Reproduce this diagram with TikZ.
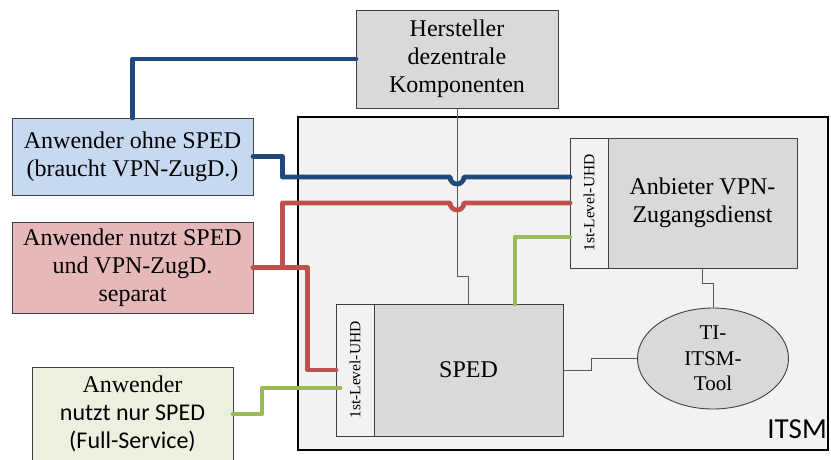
\documentclass[tikz,border=0pt]{standalone}
\usepackage{fontspec}
\setmainfont{Liberation Serif}
\newfontfamily\calibri{Carlito}
\usetikzlibrary{shapes.geometric,calc}

\definecolor{boxgray}{HTML}{D9D9D9}
\definecolor{itsmgray}{HTML}{F2F2F2}
\definecolor{userblue}{HTML}{C6D9F1}
\definecolor{userred}{HTML}{E6B9B8}
\definecolor{usergreen}{HTML}{EBF1DE}
\definecolor{lineblue}{HTML}{1F497D}
\definecolor{linered}{HTML}{C0504D}
\definecolor{linegreen}{HTML}{9BBB59}

\begin{document}
\begin{tikzpicture}[x=1pt, y=-1pt,
    box/.style={draw=black!75, line width=0.9pt, inner sep=0pt, outer sep=0pt, anchor=north west,
        align=center, font=\fontsize{24}{28}\selectfont},
    uhd/.style={box, fill=itsmgray, minimum width=38pt, font=\fontsize{15.5}{18}\selectfont},
    thin/.style={draw=black!65, line width=0.9pt},
    user/.style={line width=4.8pt, line cap=round, line join=round}]
    \useasboundingbox (0,0) rectangle (831,459);

    \node[box, draw=black, line width=1.8pt, fill=itsmgray, minimum width=530pt, minimum height=333pt] (itsm) at (298,117) {};
    \node[anchor=base east, inner sep=0pt, font=\calibri\fontsize{29}{32}\selectfont] (itsmlabel) at (827,438) {ITSM};

    \node[box, fill=boxgray, minimum width=202pt, minimum height=98pt] (herst) at (356,10) {Hersteller\\dezentrale\\Komponenten};
    \node[box, fill=userblue, minimum width=241pt, minimum height=77pt] (ohne) at (12,118) {Anwender ohne SPED\\(braucht VPN-ZugD.)};
    \node[box, fill=userred, minimum width=241pt, minimum height=91pt] (nutzt) at (12,222) {Anwender nutzt SPED\\und VPN-ZugD.\\separat};
    \node[box, fill=usergreen, minimum width=201pt, minimum height=94pt] (nursped) at (32,367) {Anwender\\{\calibri nutzt nur SPED}\\{\calibri (Full-Service)}};

    \node[uhd, minimum height=130pt] (uhdA) at (570,138) {\rotatebox{90}{1st-Level-UHD}};
    \node[box, fill=boxgray, minimum width=189pt, minimum height=130pt] (vpn) at (608,138) {Anbieter VPN-\\Zugangsdienst};
    \node[uhd, minimum height=132pt] (uhdB) at (336,304) {\rotatebox{90}{1st-Level-UHD}};
    \node[box, fill=boxgray, minimum width=189pt, minimum height=132pt] (sped) at (374,304) {SPED};
    \node[ellipse, draw=black!75, line width=0.9pt, fill=boxgray, inner sep=0pt, minimum width=151pt, minimum height=101pt,
        align=center, font=\fontsize{21}{25.5}\selectfont] (tool) at (713,358.5) {TI-\\ITSM-\\Tool};

    \draw[thin] (herst.south) -- ++(0,168) -| (sped.north);
    \draw[thin] (vpn.south) -- ++(0,15.5) -| (tool.north);
    \draw[thin] (sped.east) -- ++(28,0) |- (tool.west);

    \draw[user, lineblue] (ohne.north) |- (herst.west);
    \draw[user, lineblue] (ohne.east) -- ++(29.5,0) |- (450,177)
        arc[start angle=180, end angle=0, radius=7] -- ($(uhdA.west)+(0,-26)$);
    \draw[user, linered] (nutzt.east) ++(29.5,0) |- (450,203)
        arc[start angle=180, end angle=0, radius=7] -- (uhdA.west);
    \draw[user, linered] (nutzt.east) -- ++(54.5,0) |- (uhdB.west);
    \draw[user, linegreen] ($(sped.north)+(46.5,0)$) |- ($(uhdA.west)+(0,34)$);
    \draw[user, linegreen] (nursped.east) -- ++(29,0) |- ($(uhdB.west)+(4,18)$);
\end{tikzpicture}
\end{document}
